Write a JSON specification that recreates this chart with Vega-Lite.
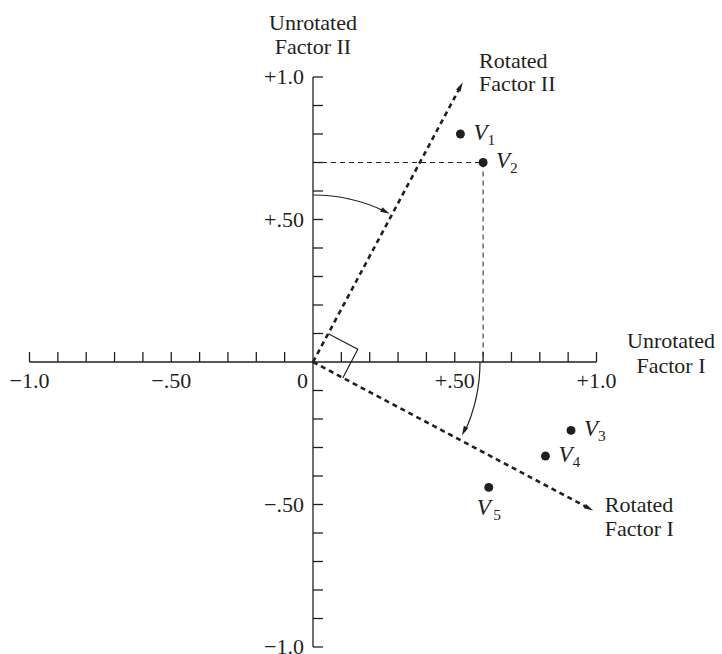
{
  "$schema": "https://vega.github.io/schema/vega-lite/v6.json",
  "width": 567,
  "height": 570,
  "autosize": {"type": "none"},
  "padding": {"left": 29.5, "top": 77, "right": 125.5, "bottom": 7},
  "background": "white",
  "config": {
    "view": {"stroke": null},
    "text": {"font": "Liberation Serif", "fontSize": 22, "color": "#231f20"}
  },
  "datasets": {
    "axes": [
      {"x": -1, "y": 0, "x2": 1, "y2": 0},
      {"x": 0, "y": -1, "x2": 0, "y2": 1}
    ],
    "ticks": [
      {"t": -1.0}, {"t": -0.9}, {"t": -0.8}, {"t": -0.7}, {"t": -0.6},
      {"t": -0.5}, {"t": -0.4}, {"t": -0.3}, {"t": -0.2}, {"t": -0.1},
      {"t": 0.1}, {"t": 0.2}, {"t": 0.3}, {"t": 0.4}, {"t": 0.5},
      {"t": 0.6}, {"t": 0.7}, {"t": 0.8}, {"t": 0.9}, {"t": 1.0}
    ],
    "xlabels": [
      {"t": -1.0, "label": "−1.0"},
      {"t": -0.5, "label": "−.50"},
      {"t": 0.5, "label": "+.50"},
      {"t": 1.0, "label": "+1.0"}
    ],
    "ylabels": [
      {"t": 1.0, "label": "+1.0"},
      {"t": 0.5, "label": "+.50"},
      {"t": -0.5, "label": "−.50"},
      {"t": -1.0, "label": "−1.0"}
    ],
    "projection": [
      {"x": 0, "y": 0.7, "x2": 0.6, "y2": 0.7},
      {"x": 0.6, "y": 0.7, "x2": 0.6, "y2": 0}
    ],
    "rotated": [
      {"name": "Rotated Factor II", "x": 0, "y": 0, "x2": 0.52, "y2": 0.966},
      {"name": "Rotated Factor I", "x": 0, "y": 0, "x2": 0.973, "y2": -0.513}
    ],
    "square": [
      {"o": 1, "x": 0.054, "y": 0.099},
      {"o": 2, "x": 0.158, "y": 0.045},
      {"o": 3, "x": 0.105, "y": -0.056}
    ],
    "arrows": [
      {"x": 0.52, "y": 0.966, "a": 28.2},
      {"x": 0.973, "y": -0.513, "a": 117.9},
      {"x": 0.255, "y": 0.528, "a": 117.4},
      {"x": 0.533, "y": -0.242, "a": 206.3}
    ],
    "variables": [
      {"name": "V1", "sub": "1", "x": 0.52, "y": 0.80},
      {"name": "V2", "sub": "2", "x": 0.60, "y": 0.70},
      {"name": "V3", "sub": "3", "x": 0.91, "y": -0.24},
      {"name": "V4", "sub": "4", "x": 0.82, "y": -0.33},
      {"name": "V5", "sub": "5", "x": 0.62, "y": -0.44}
    ]
  },
  "layer": [
    {
      "data": {"name": "axes"},
      "mark": {"type": "rule", "color": "#231f20", "strokeWidth": 1.3},
      "encoding": {
        "x": {"field": "x", "type": "quantitative", "scale": {"domain": [-1, 1], "nice": false, "zero": false}, "axis": null},
        "x2": {"field": "x2"},
        "y": {"field": "y", "type": "quantitative", "scale": {"domain": [-1, 1], "nice": false, "zero": false}, "axis": null},
        "y2": {"field": "y2"}
      }
    },
    {
      "data": {"name": "ticks"},
      "mark": {"type": "rule", "color": "#231f20", "strokeWidth": 1.3},
      "encoding": {
        "x": {"field": "t", "type": "quantitative", "scale": {"domain": [-1, 1], "nice": false, "zero": false}, "axis": null},
        "y": {"datum": 0, "type": "quantitative", "scale": {"domain": [-1, 1], "nice": false, "zero": false}, "axis": null},
        "y2": {"datum": 0.0351}
      }
    },
    {
      "data": {"name": "ticks"},
      "mark": {"type": "rule", "color": "#231f20", "strokeWidth": 1.3},
      "encoding": {
        "y": {"field": "t", "type": "quantitative", "scale": {"domain": [-1, 1], "nice": false, "zero": false}, "axis": null},
        "x": {"datum": 0, "type": "quantitative", "scale": {"domain": [-1, 1], "nice": false, "zero": false}, "axis": null},
        "x2": {"datum": 0.0353}
      }
    },
    {
      "data": {"name": "xlabels"},
      "mark": {"type": "text", "align": "center", "baseline": "alphabetic", "dy": 26},
      "encoding": {
        "x": {"field": "t", "type": "quantitative", "scale": {"domain": [-1, 1], "nice": false, "zero": false}, "axis": null},
        "y": {"datum": 0, "type": "quantitative", "scale": {"domain": [-1, 1], "nice": false, "zero": false}, "axis": null},
        "text": {"field": "label"}
      }
    },
    {
      "data": {"values": [{"t": 0, "label": "0"}]},
      "mark": {"type": "text", "align": "right", "baseline": "alphabetic", "dx": -5, "dy": 26},
      "encoding": {
        "x": {"field": "t", "type": "quantitative", "scale": {"domain": [-1, 1], "nice": false, "zero": false}, "axis": null},
        "y": {"field": "t", "type": "quantitative", "scale": {"domain": [-1, 1], "nice": false, "zero": false}, "axis": null},
        "text": {"field": "label"}
      }
    },
    {
      "data": {"name": "ylabels"},
      "mark": {"type": "text", "align": "right", "baseline": "middle", "dx": -9},
      "encoding": {
        "y": {"field": "t", "type": "quantitative", "scale": {"domain": [-1, 1], "nice": false, "zero": false}, "axis": null},
        "x": {"datum": 0, "type": "quantitative", "scale": {"domain": [-1, 1], "nice": false, "zero": false}, "axis": null},
        "text": {"field": "label"}
      }
    },
    {
      "data": {"name": "projection"},
      "mark": {"type": "rule", "color": "#231f20", "strokeWidth": 1, "strokeDash": [5, 4]},
      "encoding": {
        "x": {"field": "x", "type": "quantitative", "scale": {"domain": [-1, 1], "nice": false, "zero": false}, "axis": null},
        "x2": {"field": "x2"},
        "y": {"field": "y", "type": "quantitative", "scale": {"domain": [-1, 1], "nice": false, "zero": false}, "axis": null},
        "y2": {"field": "y2"}
      }
    },
    {
      "data": {"name": "rotated"},
      "mark": {"type": "rule", "color": "#231f20", "strokeWidth": 2.6, "strokeDash": [5, 4]},
      "encoding": {
        "x": {"field": "x", "type": "quantitative", "scale": {"domain": [-1, 1], "nice": false, "zero": false}, "axis": null},
        "x2": {"field": "x2"},
        "y": {"field": "y", "type": "quantitative", "scale": {"domain": [-1, 1], "nice": false, "zero": false}, "axis": null},
        "y2": {"field": "y2"}
      }
    },
    {
      "data": {"name": "square"},
      "mark": {"type": "line", "color": "#231f20", "strokeWidth": 1.2},
      "encoding": {
        "x": {"field": "x", "type": "quantitative", "scale": {"domain": [-1, 1], "nice": false, "zero": false}, "axis": null},
        "y": {"field": "y", "type": "quantitative", "scale": {"domain": [-1, 1], "nice": false, "zero": false}, "axis": null},
        "order": {"field": "o"}
      }
    },
    {
      "data": {"values": [{"arc": "Factor II rotation"}]},
      "mark": {"type": "arc", "theta": 0, "theta2": 0.45, "radius": 167, "radius2": 167, "filled": false, "color": "#231f20", "strokeWidth": 1.2},
      "encoding": {}
    },
    {
      "data": {"values": [{"arc": "Factor I rotation"}]},
      "mark": {"type": "arc", "theta": 1.5708, "theta2": 2.0, "radius": 167, "radius2": 167, "filled": false, "color": "#231f20", "strokeWidth": 1.2},
      "encoding": {}
    },
    {
      "data": {"name": "arrows"},
      "mark": {"type": "point", "shape": "M0,-1L0.5,0.9L-0.5,0.9Z", "filled": true, "color": "#231f20", "size": 100, "opacity": 1, "strokeWidth": 0},
      "encoding": {
        "x": {"field": "x", "type": "quantitative", "scale": {"domain": [-1, 1], "nice": false, "zero": false}, "axis": null},
        "y": {"field": "y", "type": "quantitative", "scale": {"domain": [-1, 1], "nice": false, "zero": false}, "axis": null},
        "angle": {"field": "a", "type": "quantitative", "scale": null}
      }
    },
    {
      "data": {"name": "variables"},
      "mark": {"type": "point", "shape": "circle", "filled": true, "color": "#231f20", "size": 80, "opacity": 1},
      "encoding": {
        "x": {"field": "x", "type": "quantitative", "scale": {"domain": [-1, 1], "nice": false, "zero": false}, "axis": null},
        "y": {"field": "y", "type": "quantitative", "scale": {"domain": [-1, 1], "nice": false, "zero": false}, "axis": null}
      }
    },
    {
      "data": {"name": "variables"},
      "transform": [{"filter": "datum.name != 'V5'"}],
      "mark": {"type": "text", "align": "left", "baseline": "alphabetic", "fontStyle": "italic", "fontSize": 23, "dx": 13, "dy": 5.5},
      "encoding": {
        "x": {"field": "x", "type": "quantitative", "scale": {"domain": [-1, 1], "nice": false, "zero": false}, "axis": null},
        "y": {"field": "y", "type": "quantitative", "scale": {"domain": [-1, 1], "nice": false, "zero": false}, "axis": null},
        "text": {"value": "V"}
      }
    },
    {
      "data": {"name": "variables"},
      "transform": [{"filter": "datum.name != 'V5'"}],
      "mark": {"type": "text", "align": "left", "baseline": "alphabetic", "fontSize": 15.5, "dx": 27, "dy": 10.5},
      "encoding": {
        "x": {"field": "x", "type": "quantitative", "scale": {"domain": [-1, 1], "nice": false, "zero": false}, "axis": null},
        "y": {"field": "y", "type": "quantitative", "scale": {"domain": [-1, 1], "nice": false, "zero": false}, "axis": null},
        "text": {"field": "sub"}
      }
    },
    {
      "data": {"name": "variables"},
      "transform": [{"filter": "datum.name == 'V5'"}],
      "mark": {"type": "text", "align": "left", "baseline": "alphabetic", "fontStyle": "italic", "fontSize": 23, "dx": -12, "dy": 27.3},
      "encoding": {
        "x": {"field": "x", "type": "quantitative", "scale": {"domain": [-1, 1], "nice": false, "zero": false}, "axis": null},
        "y": {"field": "y", "type": "quantitative", "scale": {"domain": [-1, 1], "nice": false, "zero": false}, "axis": null},
        "text": {"value": "V"}
      }
    },
    {
      "data": {"name": "variables"},
      "transform": [{"filter": "datum.name == 'V5'"}],
      "mark": {"type": "text", "align": "left", "baseline": "alphabetic", "fontSize": 15.5, "dx": 4.6, "dy": 32.3},
      "encoding": {
        "x": {"field": "x", "type": "quantitative", "scale": {"domain": [-1, 1], "nice": false, "zero": false}, "axis": null},
        "y": {"field": "y", "type": "quantitative", "scale": {"domain": [-1, 1], "nice": false, "zero": false}, "axis": null},
        "text": {"field": "sub"}
      }
    },
    {
      "data": {"values": [{"x": 0, "y": 1, "label": ["Unrotated", "Factor II"]}]},
      "mark": {"type": "text", "align": "center", "baseline": "alphabetic", "dx": 0, "dy": -46.6, "lineHeight": 23.4},
      "encoding": {
        "x": {"field": "x", "type": "quantitative", "scale": {"domain": [-1, 1], "nice": false, "zero": false}, "axis": null},
        "y": {"field": "y", "type": "quantitative", "scale": {"domain": [-1, 1], "nice": false, "zero": false}, "axis": null},
        "text": {"field": "label"}
      }
    },
    {
      "data": {"values": [{"x": 1, "y": 0, "label": ["Unrotated", "Factor I"]}]},
      "mark": {"type": "text", "align": "center", "baseline": "alphabetic", "dx": 74.5, "dy": -14, "lineHeight": 25},
      "encoding": {
        "x": {"field": "x", "type": "quantitative", "scale": {"domain": [-1, 1], "nice": false, "zero": false}, "axis": null},
        "y": {"field": "y", "type": "quantitative", "scale": {"domain": [-1, 1], "nice": false, "zero": false}, "axis": null},
        "text": {"field": "label"}
      }
    },
    {
      "data": {"values": [{"x": 0.52, "y": 0.966, "label": ["Rotated", "Factor II"]}]},
      "mark": {"type": "text", "align": "left", "baseline": "alphabetic", "dx": 18.7, "dy": -18.8, "lineHeight": 23.4},
      "encoding": {
        "x": {"field": "x", "type": "quantitative", "scale": {"domain": [-1, 1], "nice": false, "zero": false}, "axis": null},
        "y": {"field": "y", "type": "quantitative", "scale": {"domain": [-1, 1], "nice": false, "zero": false}, "axis": null},
        "text": {"field": "label"}
      }
    },
    {
      "data": {"values": [{"x": 0.973, "y": -0.513, "label": ["Rotated", "Factor I"]}]},
      "mark": {"type": "text", "align": "left", "baseline": "alphabetic", "dx": 16, "dy": 3.8, "lineHeight": 23.5},
      "encoding": {
        "x": {"field": "x", "type": "quantitative", "scale": {"domain": [-1, 1], "nice": false, "zero": false}, "axis": null},
        "y": {"field": "y", "type": "quantitative", "scale": {"domain": [-1, 1], "nice": false, "zero": false}, "axis": null},
        "text": {"field": "label"}
      }
    }
  ]
}
